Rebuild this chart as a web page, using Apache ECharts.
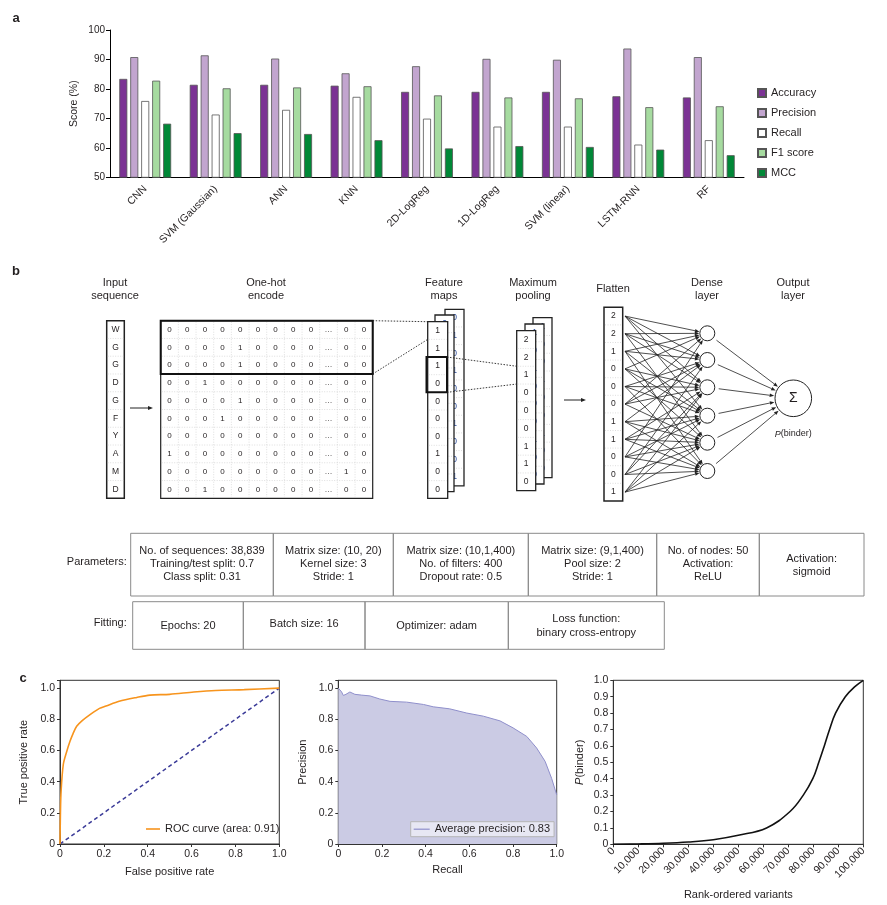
<!DOCTYPE html>
<html><head><meta charset="utf-8">
<script src="https://cdn.jsdelivr.net/npm/echarts@6/dist/echarts.min.js"></script>
<style>html,body{margin:0;padding:0;background:#fff}#c{width:887px;height:905px}</style>
</head><body><div id="c"></div><script>
// ---------- Panel a data ----------
const models = ['CNN','SVM (Gaussian)','ANN','KNN','2D-LogReg','1D-LogReg','SVM (linear)','LSTM-RNN','RF'];
const metricNames = ['Accuracy','Precision','Recall','F1 score','MCC'];
const accuracy  = [83.4,81.4,81.4,81.1,79.0,79.0,79.0,77.5,77.1];
const precision = [90.8,91.4,90.3,85.3,87.7,90.2,89.9,93.7,90.8];
const recall    = [75.9,71.3,72.9,77.3,69.9,67.2,67.2,61.1,62.6];
const f1score   = [82.8,80.2,80.5,80.9,77.8,77.1,76.8,73.8,74.1];
const mcc       = [68.2,65.0,64.7,62.6,59.8,60.6,60.3,59.4,57.5];
const metricColors = ['#7b3294','#c2a5cf','#ffffff','#a6dba0','#008837'];

// ---------- Panel b data ----------
const seqLetters = ['W','G','G','D','G','F','Y','A','M','D'];
const oneHot = [
 [0,0,0,0,0,0,0,0,0,'…',0,0],
 [0,0,0,0,1,0,0,0,0,'…',0,0],
 [0,0,0,0,1,0,0,0,0,'…',0,0],
 [0,0,1,0,0,0,0,0,0,'…',0,0],
 [0,0,0,0,1,0,0,0,0,'…',0,0],
 [0,0,0,1,0,0,0,0,0,'…',0,0],
 [0,0,0,0,0,0,0,0,0,'…',0,0],
 [1,0,0,0,0,0,0,0,0,'…',0,0],
 [0,0,0,0,0,0,0,0,0,'…',1,0],
 [0,0,1,0,0,0,0,0,0,'…',0,0]
];
const featureMap  = [1,1,1,0,0,0,0,1,0,0];
const featureMap2 = [0,1,0,1,0,0,1,0,0,1];
const featureMap3 = [0,1,0,1,0,0,1,0,0,1];
const poolMap  = [2,2,1,0,0,0,1,1,0];
const poolMap2 = [1,0,1,0,0,0,1,0,0];
const poolMap3 = [1,0,0,1,0,0,1,0,0];
const flattenVals = [2,2,1,0,0,0,1,1,0,0,1];
const denseLinks = [[0,1,2,3],[0,1,2,4],[0,1,3,5],[0,2,3,4],[1,2,3,5],[0,1,2,4],[1,3,4,5],[2,3,4,5],[0,3,4,5],[1,2,4,5],[2,3,4,5]];
const paramRow = [
 ['No. of sequences: 38,839','Training/test split: 0.7','Class split: 0.31'],
 ['Matrix size: (10, 20)','Kernel size: 3','Stride: 1'],
 ['Matrix size: (10,1,400)','No. of filters: 400','Dropout rate: 0.5'],
 ['Matrix size: (9,1,400)','Pool size: 2','Stride: 1'],
 ['No. of nodes: 50','Activation:','ReLU'],
 ['Activation:','sigmoid']
];
const fitRow = [['Epochs: 20'],['Batch size: 16'],['Optimizer: adam'],['Loss function:','binary cross-entropy']];

// ---------- Panel c data ----------
const rocX = [0,0.002,0.005,0.015,0.03,0.046,0.06,0.076,0.1,0.137,0.18,0.21,0.27,0.35,0.41,0.5,0.61,0.71,0.84,1.0];
const rocY = [0,0.2,0.34,0.51,0.59,0.66,0.71,0.755,0.79,0.83,0.87,0.885,0.915,0.94,0.955,0.96,0.975,0.985,0.99,1.0];
const prX = [0,0.008,0.015,0.023,0.035,0.053,0.076,0.107,0.145,0.19,0.237,0.313,0.39,0.435,0.51,0.588,0.664,0.74,0.8,0.863,0.908,0.947,0.977,1.0];
const prY = [1.0,1.0,0.976,0.953,0.96,0.975,0.96,0.955,0.95,0.93,0.915,0.91,0.895,0.88,0.867,0.84,0.82,0.79,0.745,0.69,0.616,0.53,0.42,0.315];
const rankX = [0,10000,20000,30000,40000,50000,61300,70700,76000,79800,82200,84400,86500,88900,92800,96500,100000];
const pBinder = [0,0.002,0.006,0.014,0.028,0.055,0.1,0.2,0.3,0.4,0.5,0.6,0.7,0.8,0.9,0.96,1.0];

const FONT = '"Liberation Sans", Arial, sans-serif';
const TXT = '#231f20';

// ---------- graphic helpers for diagram ----------
const G = [];
let zc = 1;
function txt(x,y,s,o){o=o||{};G.push({type:'text',x:x,y:y,z:10,z2:zc++,silent:true,style:{text:String(s),fill:o.fill||TXT,font:(o.weight||'normal')+' '+(o.size||11)+'px '+FONT,align:o.align||'center',verticalAlign:o.va||'middle',textAlign:o.align||'center',textVerticalAlign:o.va||'middle'}});}
function rect(x,y,w,h,o){o=o||{};G.push({type:'rect',z:10,z2:zc++,silent:true,shape:{x:x,y:y,width:w,height:h},style:{fill:o.fill||'none',stroke:o.stroke||'#222',lineWidth:o.lw==null?1:o.lw}});}
function line(x1,y1,x2,y2,o){o=o||{};G.push({type:'line',z:10,z2:zc++,silent:true,shape:{x1:x1,y1:y1,x2:x2,y2:y2},style:{stroke:o.stroke||'#222',lineWidth:o.lw||1,lineDash:o.dash||null}});}
function circ(cx,cy,r,o){o=o||{};G.push({type:'circle',z:10,z2:zc++,silent:true,shape:{cx:cx,cy:cy,r:r},style:{fill:o.fill||'#fff',stroke:o.stroke||'#222',lineWidth:o.lw||1}});}
function arrow(x1,y1,x2,y2,o){o=o||{};const h=o.head||5,w=o.hw||2;const dx=x2-x1,dy=y2-y1,L=Math.sqrt(dx*dx+dy*dy),ux=dx/L,uy=dy/L;const bx=x2-ux*h,by=y2-uy*h;line(x1,y1,bx,by,{lw:o.lw||0.8});G.push({type:'polygon',z:10,z2:zc++,silent:true,shape:{points:[[x2,y2],[bx-uy*w,by+ux*w],[bx+uy*w,by-ux*w]]},style:{fill:'#222'}});}
function column(x,y,w,rowH,vals,o){o=o||{};rect(x,y,w,rowH*vals.length,{fill:'#fff',stroke:'#222',lw:o.lw||1.3});
  for(let i=1;i<vals.length;i++) line(x+1,y+i*rowH,x+w-1,y+i*rowH,{stroke:'#c8c8c8',lw:0.6,dash:[1,1.5]});
  vals.forEach((v,i)=>txt(x+w/2,y+(i+0.5)*rowH,v,{size:o.size||8.5,fill:o.fill}));}

// panel labels
txt(16,18,'a',{weight:'bold',size:13});
txt(16,271,'b',{weight:'bold',size:13});
txt(23,678,'c',{weight:'bold',size:13});

// headers
[['Input','sequence',115],['One-hot','encode',266],['Feature','maps',444],['Maximum','pooling',533],['Dense','layer',707],['Output','layer',793]].forEach(h=>{txt(h[2],283,h[0]);txt(h[2],296,h[1]);});
txt(613,289,'Flatten');

// input sequence
const rowH = 17.76, topY = 320.7;
column(106.7,topY,17.6,rowH,seqLetters,{size:8.5,lw:1.5});
arrow(130,408,153,408,{lw:1});

// one-hot matrix
const mX=160.7, mW=212, colW=mW/12;
rect(mX,topY,mW,rowH*10,{fill:'#fff',stroke:'#222',lw:1.2});
for(let i=1;i<10;i++) line(mX+1,topY+i*rowH,mX+mW-1,topY+i*rowH,{stroke:'#c8c8c8',lw:0.6,dash:[1,1.5]});
for(let j=1;j<12;j++) line(mX+j*colW,topY+1,mX+j*colW,topY+rowH*10-1,{stroke:'#c8c8c8',lw:0.6,dash:[1,1.5]});
oneHot.forEach((r,i)=>r.forEach((v,j)=>txt(mX+(j+0.5)*colW,topY+(i+0.5)*rowH,v,{size:8})));
rect(mX,topY,mW,rowH*3,{stroke:'#111',lw:2});

// feature maps
const fRow=17.66;
column(445,309.3,19,fRow,featureMap3,{fill:'#2b4c9b'});
column(435,315,19,fRow,featureMap2,{fill:'#2b4c9b'});
column(427.7,321.7,20,fRow,featureMap);
rect(426.5,321.7+2*fRow,20.5,2*fRow,{stroke:'#111',lw:2});
line(372.7,320.7,427.7,321.7,{dash:[1.5,1.5],lw:0.9});
line(372.7,374,427.7,321.7+fRow,{dash:[1.5,1.5],lw:0.9});

// pooling
const pRow=17.78;
column(533,317.7,19,pRow,poolMap3,{fill:'#2b4c9b'});
column(525,324,19,pRow,poolMap2,{fill:'#2b4c9b'});
column(516.7,330.7,19,pRow,poolMap);
line(447,321.7+2*fRow,516.7,330.7+2*pRow,{dash:[1.5,1.5],lw:0.9});
line(447,321.7+4*fRow,516.7,330.7+3*pRow,{dash:[1.5,1.5],lw:0.9});
arrow(564,400,586,400,{lw:1});

// flatten
const flRow=17.6, flTop=307.3, flX=604, flW=18.7;
column(flX,flTop,flW,flRow,flattenVals,{lw:1.5});

// dense layer
const denseY=[333.3,360,387.3,415.7,442.7,471], denseX=707.3, dR=7.5;
const outX=793.3, outY=398.3, oR=18.3;
denseLinks.forEach((lst,i)=>{const sy=flTop+(i+0.5)*flRow;lst.forEach(j=>{const dx=denseX-625,dy=denseY[j]-sy,L=Math.sqrt(dx*dx+dy*dy);arrow(625,sy,denseX-dx/L*(dR+0.5),denseY[j]-dy/L*(dR+0.5),{lw:0.8,head:4.5,hw:1.8});});});
denseY.forEach(y=>{const dx=outX-denseX,dy=outY-y,L=Math.sqrt(dx*dx+dy*dy),ux=dx/L,uy=dy/L;arrow(denseX+ux*(dR+4),y+uy*(dR+4),outX-ux*(oR+1),outY-uy*(oR+1),{lw:0.8,head:4.5,hw:1.8});});
denseY.forEach(y=>circ(denseX,y,dR,{lw:1}));
circ(outX,outY,oR,{lw:1});
txt(outX,outY,'Σ',{size:14});
G.push({type:'text',x:outX,y:434,z:10,z2:zc++,silent:true,style:{text:'{i|P}(binder)',font:'9px '+FONT,fill:TXT,align:'center',verticalAlign:'middle',rich:{i:{fontStyle:'italic',fontSize:9,fontFamily:FONT,fill:TXT}}}});

// parameter table
const pEdges=[130.7,273.3,393.3,528.3,656.7,759.3,864], pTop=533.3, pH=62.7;
txt(126.7,561.7,'Parameters:',{align:'right'});
paramRow.forEach((lines,k)=>{rect(pEdges[k],pTop,pEdges[k+1]-pEdges[k],pH,{stroke:'#8a8a8a',lw:1});const cx=(pEdges[k]+pEdges[k+1])/2;const n=lines.length;lines.forEach((s,i)=>txt(cx,n===3?551+i*13.2:559.3+i*13,s));});
const fEdges=[132.7,243.3,365,508.3,664.3], fTop=601.7, fH=47.6;
txt(126.7,623.3,'Fitting:',{align:'right'});
fitRow.forEach((lines,k)=>{rect(fEdges[k],fTop,fEdges[k+1]-fEdges[k],fH,{stroke:'#8a8a8a',lw:1});const cx=(fEdges[k]+fEdges[k+1])/2;if(lines.length===1)txt(cx,k===1?624.3:625.7,lines[0]);else lines.forEach((s,i)=>txt(cx,619.3+i*13.4,s));});

// ---------- chart ----------
const chart = echarts.init(document.getElementById('c'),null,{renderer:'canvas'});
const axisCol = '#333';
function fmt1(v){ if(v>1.001) return ''; return v===0?'0':v.toFixed(1); }
function valAxisC(gi,max,interval,extra){return Object.assign({type:'value',gridIndex:gi,min:0,max:max,interval:interval,splitLine:{show:false},
  axisLine:{show:true,lineStyle:{color:axisCol,width:1}},axisTick:{show:true,length:3,lineStyle:{color:axisCol}},
  axisLabel:{fontSize:10.5,color:TXT,fontFamily:FONT,margin:5,formatter:fmt1,showMaxLabel:true},
  nameLocation:'middle',nameTextStyle:{fontSize:11,color:TXT,fontFamily:FONT}},extra||{});}

const barSeries = [accuracy,precision,recall,f1score,mcc].map((d,i)=>({
  name:metricNames[i],type:'bar',xAxisIndex:0,yAxisIndex:0,data:d,barWidth:8,barGap:'37%',
  itemStyle:{color:metricColors[i],borderColor:'#555',borderWidth:0.8},emphasis:{disabled:true}}));

const option = {
  animation:false,
  textStyle:{fontFamily:FONT,color:TXT},
  graphic:{elements:G},
  grid:[
    {left:110,top:30,width:634,height:147.3,containLabel:false,outerBoundsMode:'none'},
    {left:60,top:680.3,width:219.3,height:163.7,show:true,borderColor:axisCol,borderWidth:1,containLabel:false,outerBoundsMode:'none'},
    {left:338.3,top:680.3,width:218.4,height:163.7,show:true,borderColor:axisCol,borderWidth:1,containLabel:false,outerBoundsMode:'none'},
    {left:613.3,top:680.3,width:250,height:164,show:true,borderColor:axisCol,borderWidth:1,containLabel:false,outerBoundsMode:'none'}
  ],
  legend:[
    {data:metricNames,orient:'vertical',left:757,top:87.5,padding:0,itemWidth:8,itemHeight:8,itemGap:9,icon:'rect',
     textStyle:{fontSize:11,color:TXT,fontFamily:FONT},selectedMode:false},
    {data:['ROC curve (area: 0.91)'],left:146,top:823.5,padding:0,itemWidth:14,itemHeight:1.6,icon:'rect',selectedMode:false,
     textStyle:{fontSize:11,color:TXT,fontFamily:FONT}},
    {data:['Average precision: 0.83'],left:410.7,top:821.7,padding:[2,4,2,3],itemWidth:16,itemHeight:1.2,icon:'rect',selectedMode:false,
     backgroundColor:'rgba(255,255,255,0.55)',borderColor:'#b5b5b5',borderWidth:1,borderRadius:0,
     textStyle:{fontSize:11,color:TXT,fontFamily:FONT}}
  ],
  xAxis:[
    {type:'category',gridIndex:0,data:models,axisLine:{lineStyle:{color:'#000',width:1}},axisTick:{show:false},
     axisLabel:{rotate:45,fontSize:10.5,color:TXT,fontFamily:FONT,margin:10,interval:0},splitLine:{show:false}},
    valAxisC(1,1,0.2,{name:'False positive rate',nameGap:22}),
    valAxisC(2,1,0.2,{name:'Recall',nameGap:20}),
    {type:'value',gridIndex:3,min:0,max:100000,interval:10000,splitLine:{show:false},
     axisLine:{show:true,lineStyle:{color:axisCol}},axisTick:{show:true,length:3,lineStyle:{color:axisCol}},
     axisLabel:{rotate:45,fontSize:10.5,color:TXT,fontFamily:FONT,margin:5,formatter:v=>v.toLocaleString('en-US')},
     name:'Rank-ordered variants',nameLocation:'middle',nameGap:45,nameTextStyle:{fontSize:11,color:TXT,fontFamily:FONT}}
  ],
  yAxis:[
    {type:'value',gridIndex:0,min:50,max:100,interval:10,splitLine:{show:false},
     axisLine:{show:true,lineStyle:{color:'#000'}},axisTick:{show:true,length:4,lineStyle:{color:'#000'}},
     axisLabel:{fontSize:10,color:TXT,fontFamily:FONT,margin:5},
     name:'Score (%)',nameLocation:'middle',nameGap:30,nameMoveOverlap:false,nameTextStyle:{fontSize:10.5,color:TXT,fontFamily:FONT}},
    valAxisC(1,1.05,0.2,{name:'True positive rate',nameGap:31}),
    valAxisC(2,1.05,0.2,{name:'Precision',nameGap:30}),
    valAxisC(3,1,0.1,{name:'{i|P}(binder)',nameGap:28,nameTextStyle:{fontSize:11,color:TXT,fontFamily:FONT,rich:{i:{fontStyle:'italic',fontSize:11,color:TXT,fontFamily:FONT}}}})
  ],
  series: barSeries.concat([
    {name:'diag',type:'line',xAxisIndex:1,yAxisIndex:1,data:[[0,0],[1,1]],symbol:'none',
     lineStyle:{color:'#3b3b98',width:1.5,type:[4,3]},silent:true,z:2},
    {name:'ROC curve (area: 0.91)',type:'line',xAxisIndex:1,yAxisIndex:1,data:rocX.map((x,i)=>[x,rocY[i]]),symbol:'none',
     smooth:0.3,lineStyle:{color:'#f7941d',width:1.6},itemStyle:{color:'#f7941d'},z:3},
    {name:'Average precision: 0.83',type:'line',xAxisIndex:2,yAxisIndex:2,data:prX.map((x,i)=>[x,prY[i]]),symbol:'none',
     lineStyle:{color:'#8f8fcb',width:1},itemStyle:{color:'#8f8fcb'},areaStyle:{color:'#cbcbe4',opacity:1}},
    {name:'pbinder',type:'line',xAxisIndex:3,yAxisIndex:3,data:rankX.map((x,i)=>[x,pBinder[i]]),symbol:'none',smooth:0.4,
     lineStyle:{color:'#111',width:1.6}}
  ])
};
chart.setOption(option);
</script></body></html>
